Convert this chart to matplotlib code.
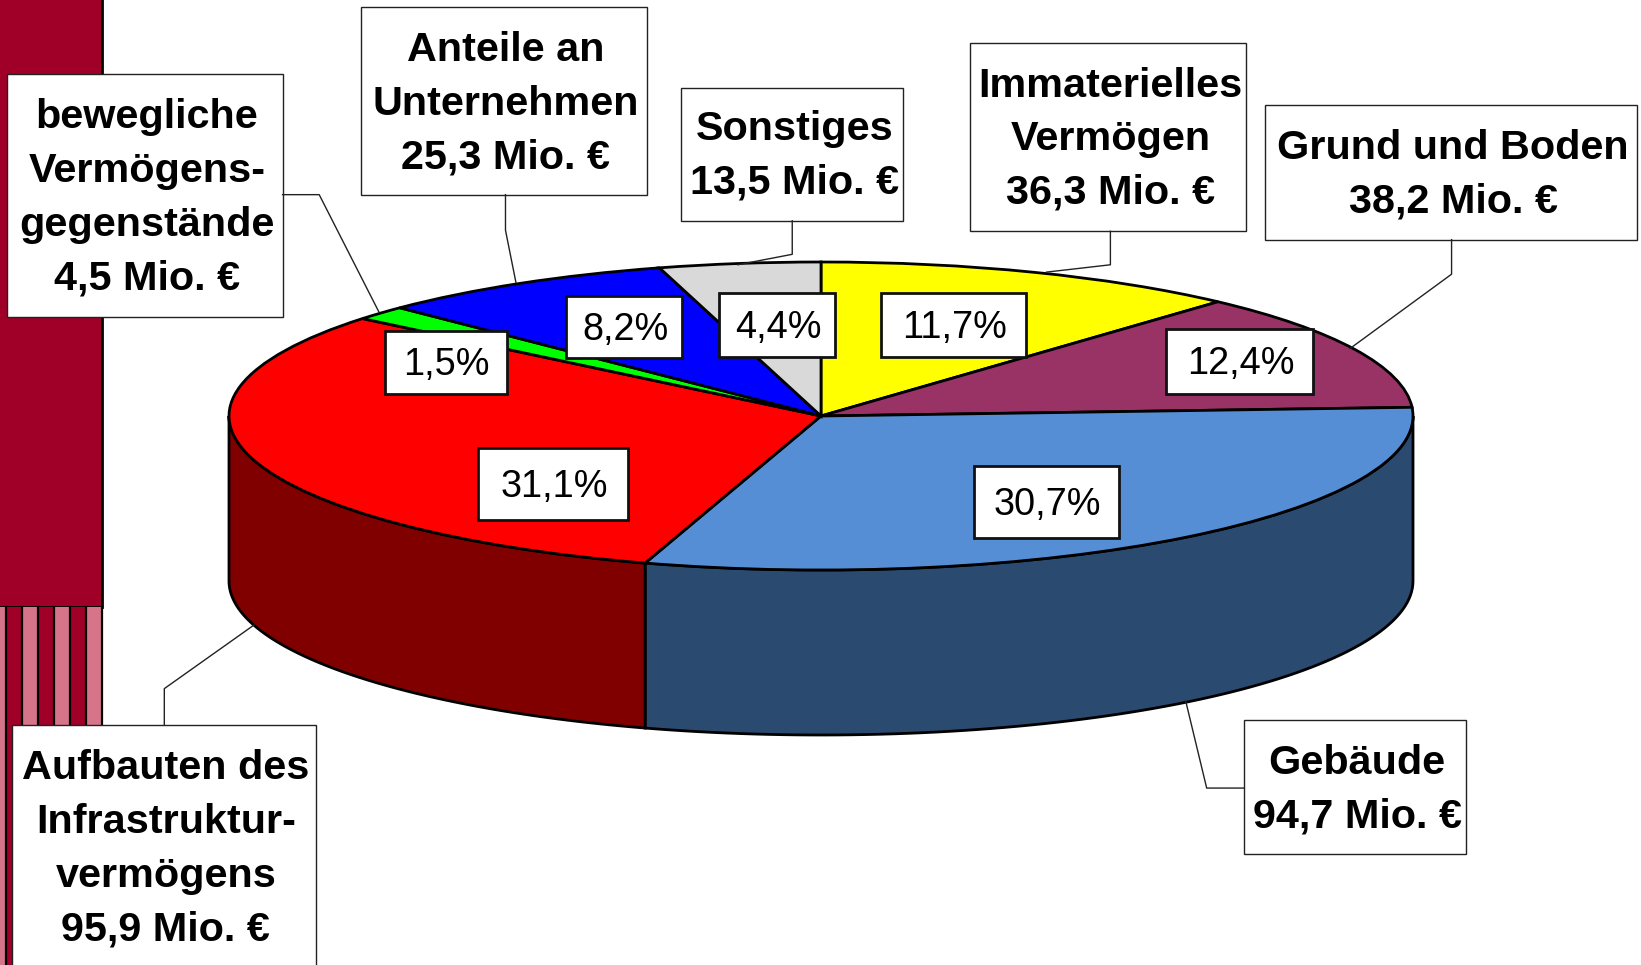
import matplotlib
matplotlib.use("Agg")
import matplotlib.pyplot as plt
from matplotlib.patches import Rectangle
import numpy as np

plt.rcParams['font.family'] = ['Liberation Sans', 'DejaVu Sans']

W, H = 1641, 965
SC = 1641 / 1568  # boxes

# slices, clockwise from 12 o'clock
names = ["Immaterielles\nVermögen\n36,3 Mio. €", "Grund und Boden\n38,2 Mio. €", "Gebäude\n94,7 Mio. €",
         "Aufbauten des\nInfrastruktur-\nvermögens\n95,9 Mio. €", "bewegliche\nVermögens-\ngegenstände\n4,5 Mio. €",
         "Anteile an\nUnternehmen\n25,3 Mio. €", "Sonstiges\n13,5 Mio. €"]
percent = [11.7, 12.4, 30.7, 31.1, 1.5, 8.2, 4.4]
percent_txt = ["11,7%", "12,4%", "30,7%", "31,1%", "1,5%", "8,2%", "4,4%"]
top_colors = ["#FFFF00", "#993366", "#558ED5", "#FF0000", "#00FF00", "#0000FF", "#D9D9D9"]
side_colors = ["#808000", "#4D1A33", "#2B4A70", "#800000", "#008000", "#000080", "#6D6D6D"]

# name boxes x0, x1, y0, y1
name_boxes = [(927, 1191, 41, 221), (1209, 1564, 100, 229), (1189, 1401, 688, 816),
              (11, 302, 693, 930), (7, 270, 71, 303), (345, 618, 7, 186), (651, 863, 84, 211)]
name_text_y = [133, 167, 755, 811, 189, 99, 149]
pct_boxes = [(842, 980, 280, 341), (1114, 1255, 314, 376), (931, 1069, 445, 514),
             (457, 600, 428, 497), (368, 484, 316, 376), (541, 652, 283, 342), (687, 798, 280, 341)]
leaders = [[(1061, 221), (1061, 253), (1000, 260)], [(1387, 229), (1387, 262), (1290, 333)],
           [(1189, 753), (1153, 753), (1133, 670)], [(157, 693), (157, 658), (243, 597)],
           [(270, 186), (305, 186), (362, 298)], [(483, 186), (483, 220), (493, 270)],
           [(757, 211), (757, 243), (705, 253)]]

fig = plt.figure(figsize=(W / 100, H / 100), dpi=100, facecolor="white")

# decoration on the left, in pixels
bg = fig.add_axes([0, 0, 1, 1], zorder=0)
bg.set_xlim(0, W)
bg.set_ylim(H, 0)
bg.axis("off")
bg.add_patch(Rectangle((-5, -5), 107, 612, fc="#A00028", ec="black", lw=2))
bg.add_patch(Rectangle((0, 607), 102, 365, fc="#D6758A", ec="none"))
for x0 in [7, 39, 71]:
    bg.add_patch(Rectangle((x0, 607), 15, 365, fc="#A00028", ec="none"))
for x0 in [6, 22, 38, 54, 70, 86, 102]:
    bg.plot([x0, x0], [607, 972], color="black", lw=1.6)

# the pie, unit circle stretched to the ellipse
cx, cy, rx, ry, depth = 821, 416, 592, 154, 165
pie_ax = fig.add_axes([(cx - rx) / W, (H - cy - ry) / H, 2 * rx / W, 2 * ry / H], zorder=1)
drop = depth / ry

edges = np.radians(np.concatenate([[0], np.cumsum(percent) * 3.6]))
for i in range(len(percent)):
    a0, a1 = max(edges[i], np.pi / 2), min(edges[i + 1], 3 * np.pi / 2)
    if a1 <= a0:
        continue
    t = np.linspace(a0, a1, 80)
    xs = np.sin(t)
    ys = np.cos(t)
    pie_ax.fill(np.r_[xs, xs[::-1]], np.r_[ys, ys[::-1] - drop], fc=side_colors[i], ec="black", lw=2,
                clip_on=False, zorder=1)

wedges, _ = pie_ax.pie(percent, colors=top_colors, startangle=90, counterclock=False, radius=1,
                       wedgeprops={"edgecolor": "black", "linewidth": 2, "clip_on": False, "zorder": 2})
pie_ax.set_aspect("auto")
pie_ax.set_xlim(-1, 1)
pie_ax.set_ylim(-1, 1)
pie_ax.axis("off")

# labels on top, in pixels
ax = fig.add_axes([0, 0, 1, 1], zorder=2)
ax.set_xlim(0, W)
ax.set_ylim(H, 0)
ax.axis("off")
ax.patch.set_alpha(0)

for line in leaders:
    ax.plot([p[0] * SC for p in line], [p[1] * SC for p in line], color="#222222", lw=1)

for txt, box, ty in zip(names, name_boxes, name_text_y):
    x0, x1, y0, y1 = [v * SC for v in box]
    ax.add_patch(Rectangle((x0, y0), x1 - x0, y1 - y0, fc="white", ec="#222222", lw=1))
    ax.text((x0 + x1) / 2 + 2, ty * SC, txt, ha="center", va="center", fontsize=29.8, fontweight="bold",
            linespacing=1.52, color="black")

for txt, box in zip(percent_txt, pct_boxes):
    x0, x1, y0, y1 = [v * SC for v in box]
    ax.add_patch(Rectangle((x0, y0), x1 - x0, y1 - y0, fc="white", ec="#111111", lw=2))
    ax.text((x0 + x1) / 2 + 1, (y0 + y1) / 2 + 3, txt, ha="center", va="center", fontsize=27.3, color="black")

fig.savefig("out.png", dpi=100)
